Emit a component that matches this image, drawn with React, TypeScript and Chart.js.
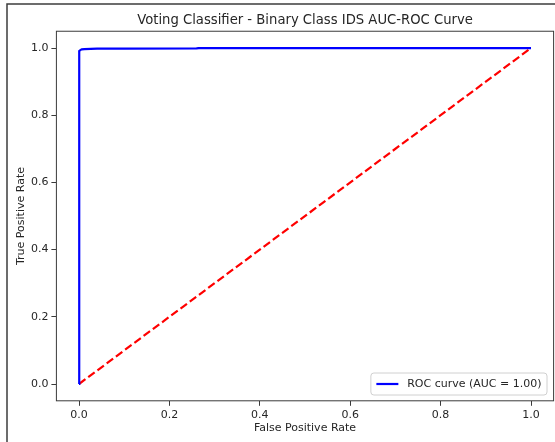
import React, { useEffect, useRef } from "react";
import { Chart, registerables } from "chart.js";

Chart.register(...registerables);

const TITLE = "Voting Classifier - Binary Class IDS AUC-ROC Curve";
const X_LABEL = "False Positive Rate";
const Y_LABEL = "True Positive Rate";
const LEGEND_LABEL = "ROC curve (AUC = 1.00)";
const TICKS = [0, 0.2, 0.4, 0.6, 0.8, 1.0];
const ROC_FPR = [0, 0, 0.001, 0.003, 0.006, 0.012, 0.04, 0.1, 0.26, 0.265, 1.0];
const ROC_TPR = [0, 0.985, 0.991, 0.994, 0.996, 0.997, 0.998, 0.998, 0.999, 1.0, 1.0];
const DIAG_X = [0, 1];
const DIAG_Y = [0, 1];

const FONT = "'DejaVu Sans', sans-serif";
const TEXT = "#262626";
const AXIS = "#3a3a3a";

const decorPlugin = {
  id: "decor",
  beforeDraw(chart: any) {
    const ctx = chart.ctx;
    ctx.save();
    ctx.fillStyle = "#ffffff";
    ctx.fillRect(0, 0, chart.width, chart.height);
    ctx.strokeStyle = "#3c3c3c";
    ctx.lineWidth = 1.5;
    ctx.beginPath();
    ctx.moveTo(7, chart.height);
    ctx.lineTo(7, 4);
    ctx.lineTo(chart.width, 4);
    ctx.stroke();
    ctx.restore();
  },
  afterDatasetsDraw(chart: any) {
    const ctx = chart.ctx;
    const a = chart.chartArea;
    ctx.save();
    ctx.strokeStyle = AXIS;
    ctx.lineWidth = 1;
    ctx.strokeRect(a.left, a.top, a.right - a.left, a.bottom - a.top);

    // legend
    ctx.font = `11px ${FONT}`;
    const tw = ctx.measureText(LEGEND_LABEL).width;
    const pad = 5.5;
    const handle = 22;
    const gap = 8.8;
    const w = pad + handle + gap + tw + pad;
    const h = 22;
    const right = a.right - 6.6;
    const bottom = a.bottom - 5.8;
    const left = right - w;
    const top = bottom - h;
    ctx.beginPath();
    const r = 3;
    ctx.moveTo(left + r, top);
    ctx.lineTo(right - r, top);
    ctx.quadraticCurveTo(right, top, right, top + r);
    ctx.lineTo(right, bottom - r);
    ctx.quadraticCurveTo(right, bottom, right - r, bottom);
    ctx.lineTo(left + r, bottom);
    ctx.quadraticCurveTo(left, bottom, left, bottom - r);
    ctx.lineTo(left, top + r);
    ctx.quadraticCurveTo(left, top, left + r, top);
    ctx.closePath();
    ctx.fillStyle = "rgba(255,255,255,0.8)";
    ctx.fill();
    ctx.strokeStyle = "#d0d0d0";
    ctx.lineWidth = 1;
    ctx.stroke();
    const cy = top + h / 2;
    ctx.strokeStyle = "#0000ff";
    ctx.lineWidth = 2.2;
    ctx.beginPath();
    ctx.moveTo(left + pad, cy);
    ctx.lineTo(left + pad + handle, cy);
    ctx.stroke();
    ctx.fillStyle = TEXT;
    ctx.textBaseline = "middle";
    ctx.textAlign = "left";
    ctx.fillText(LEGEND_LABEL, left + pad + handle + gap, cy + 0.5);
    ctx.restore();
  },
};

export default function App() {
  const ref = useRef<HTMLCanvasElement | null>(null);
  useEffect(() => {
    document.body.style.margin = "0";
    const canvas = ref.current;
    if (!canvas) return;
    const tickSetter = (scale: any) => {
      scale.ticks = TICKS.map((v) => ({ value: v }));
    };
    const chart = new Chart(canvas, {
      type: "scatter",
      data: {
        datasets: [
          {
            label: LEGEND_LABEL,
            data: ROC_FPR.map((x, i) => ({ x, y: ROC_TPR[i] })),
            showLine: true,
            borderColor: "#0000ff",
            borderWidth: 2.2,
            pointRadius: 0,
            fill: false,
            tension: 0,
          },
          {
            label: "diagonal",
            data: DIAG_X.map((x, i) => ({ x, y: DIAG_Y[i] })),
            showLine: true,
            borderColor: "#ff0000",
            borderWidth: 2.2,
            borderDash: [8, 3.5],
            pointRadius: 0,
            fill: false,
          },
        ],
      },
      options: {
        responsive: false,
        animation: false,
        devicePixelRatio: 1,
        layout: { padding: { left: 0, right: 1.4, top: 0, bottom: 0 } },
        plugins: {
          legend: { display: false },
          tooltip: { enabled: false },
          title: {
            display: true,
            text: TITLE,
            fullSize: false,
            color: TEXT,
            font: { family: FONT, size: 13.2, weight: "normal" },
            padding: { top: 13.1, bottom: 2.3 },
          },
        },
        scales: {
          x: {
            type: "linear",
            position: "bottom",
            min: -0.05,
            max: 1.05,
            afterBuildTicks: tickSetter,
            afterFit: (s: any) => {
              s.height = 41.2;
            },
            border: { display: false },
            grid: {
              display: true,
              drawOnChartArea: false,
              drawTicks: true,
              tickLength: 5,
              color: AXIS,
            },
            ticks: {
              color: TEXT,
              padding: 3,
              maxRotation: 0,
              font: { family: FONT, size: 11 },
              callback: (v: any) => Number(v).toFixed(1),
            },
            title: {
              display: true,
              text: X_LABEL,
              color: TEXT,
              font: { family: FONT, size: 11 },
              padding: { top: 0, bottom: 7.4 },
            },
          },
          y: {
            type: "linear",
            position: "left",
            min: -0.05,
            max: 1.05,
            afterBuildTicks: tickSetter,
            afterFit: (s: any) => {
              s.width = 56.4;
            },
            border: { display: false },
            grid: {
              display: true,
              drawOnChartArea: false,
              drawTicks: true,
              tickLength: 5,
              color: AXIS,
            },
            ticks: {
              color: TEXT,
              padding: 3,
              font: { family: FONT, size: 11 },
              callback: (v: any) => Number(v).toFixed(1),
            },
            title: {
              display: true,
              text: Y_LABEL,
              color: TEXT,
              font: { family: FONT, size: 11 },
              padding: { top: 14.4, bottom: 0 },
            },
          },
        },
      },
      plugins: [decorPlugin],
    });
    return () => chart.destroy();
  }, []);
  return (
    <div style={{ width: 555, height: 442 }}>
      <canvas ref={ref} width={555} height={442} style={{ display: "block" }} />
    </div>
  );
}
